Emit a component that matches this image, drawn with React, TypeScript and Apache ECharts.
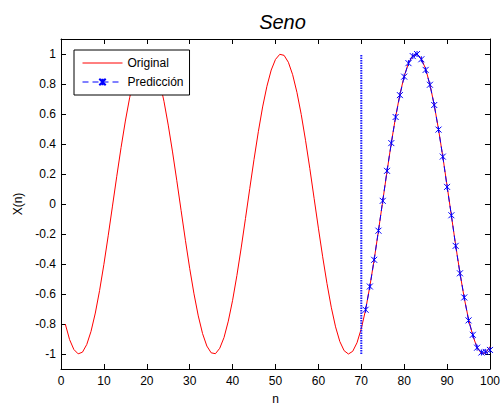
import React, { useEffect, useRef } from 'react';
import * as echarts from 'echarts';

// Original signal, n = 1..100
const originalValues = [
  -0.800, -0.904, -0.970, -0.999, -0.988, -0.937, -0.849, -0.727, -0.576, -0.402,
  -0.212, -0.014, 0.185, 0.376, 0.553, 0.708, 0.834, 0.927, 0.983, 1.000,
  0.977, 0.915, 0.817, 0.685, 0.526, 0.347, 0.155, -0.044, -0.242, -0.429,
  -0.599, -0.746, -0.864, -0.947, -0.992, -0.998, -0.962, -0.890, -0.781, -0.642,
  -0.477, -0.293, -0.097, 0.103, 0.298, 0.482, 0.647, 0.785, 0.893, 0.964,
  0.998, 0.991, 0.945, 0.862, 0.744, 0.597, 0.425, 0.237, 0.038, -0.161,
  -0.352, -0.530, -0.688, -0.819, -0.917, -0.978, -1.000, -0.982, -0.925, -0.831,
  -0.706, -0.548, -0.371, -0.179, 0.020, 0.218, 0.408, 0.581, 0.731, 0.852,
  0.939, 0.989, 0.999, 0.969, 0.900, 0.796, 0.660, 0.498, 0.316, 0.121,
  -0.078, -0.275, -0.460, -0.627, -0.768, -0.879, -0.957, -0.996, -0.994, -0.950,
];
const originalStart = 1;

// Prediction, n = 71..100
const predictionValues = [
  -0.705, -0.550, -0.372, -0.178, 0.021, 0.221, 0.406, 0.580, 0.726, 0.849,
  0.939, 0.986, 1.000, 0.965, 0.894, 0.795, 0.660, 0.496, 0.316, 0.114,
  -0.075, -0.279, -0.462, -0.623, -0.776, -0.872, -0.958, -0.990, -0.986, -0.973,
];
const predictionStart = 71;

// Vertical separator
const splitN = 70;
const splitRange = [-1, 1];

const yTickValues = [-1, -0.8, -0.6, -0.4, -0.2, 0, 0.2, 0.4, 0.6, 0.8, 1];

const FONT = '"Liberation Sans", Arial, sans-serif';
const starPath = 'path://M0,0L10,10M10,0L0,10M5,0L5,10';

export default function App() {
  const ref = useRef<HTMLDivElement>(null);
  useEffect(() => {
    if (!ref.current) return;
    const chart = echarts.init(ref.current, null, { renderer: 'svg' });
    const axisCommon = {
      axisLine: { show: true, onZero: false, lineStyle: { color: '#000', width: 1 } },
      axisTick: { show: true, inside: true, length: 5, lineStyle: { color: '#000' } },
      splitLine: { show: false },
    };
    chart.setOption({
      animation: false,
      backgroundColor: '#fff',
      title: {
        text: 'Seno',
        left: 277.5,
        textAlign: 'center',
        top: 7,
        textStyle: { fontFamily: FONT, fontSize: 20, fontStyle: 'italic', fontWeight: 'normal', color: '#000' },
      },
      legend: {
        data: [
          { name: 'Original', itemStyle: { opacity: 0 } },
          { name: 'Predicción' },
        ],
        orient: 'vertical',
        left: 74,
        top: 50,
        itemWidth: 40,
        itemHeight: 8,
        itemGap: 7,
        padding: [7, 6, 7, 8],
        borderColor: '#000',
        borderWidth: 1,
        backgroundColor: '#fff',
        lineStyle: { width: 1 },
        textStyle: { fontFamily: FONT, fontSize: 12, color: '#000' },
      },
      grid: { left: 61, right: 9, top: 39, bottom: 31, containLabel: false },
      xAxis: [
        {
          type: 'value', min: 0, max: 100, interval: 10, position: 'bottom',
          ...axisCommon,
          name: 'n', nameLocation: 'middle', nameGap: 24,
          nameTextStyle: { fontFamily: FONT, fontSize: 12, color: '#000' },
          axisLabel: { margin: 6, fontFamily: FONT, fontSize: 12, color: '#000' },
        },
        {
          type: 'value', min: 0, max: 100, interval: 10, position: 'top',
          ...axisCommon,
          axisLabel: { show: false },
        },
      ],
      yAxis: [
        {
          type: 'value', min: -1.1, max: 1.1, position: 'left',
          ...axisCommon,
          axisTick: { show: true, inside: true, length: 5, lineStyle: { color: '#000' }, customValues: yTickValues },
          axisLabel: { margin: 5, fontFamily: FONT, fontSize: 12, color: '#000', customValues: yTickValues },
          name: 'X(n)', nameLocation: 'middle', nameGap: 36, nameRotate: 90,
          nameTextStyle: { fontFamily: FONT, fontSize: 12, color: '#000' },
        },
        {
          type: 'value', min: -1.1, max: 1.1, position: 'right',
          ...axisCommon,
          axisTick: { show: true, inside: true, length: 5, lineStyle: { color: '#000' }, customValues: yTickValues },
          axisLabel: { show: false, customValues: yTickValues },
        },
      ],
      series: [
        {
          name: 'Original',
          type: 'line',
          data: originalValues.map((v, i) => [originalStart + i, v]),
          symbol: 'none',
          color: '#ff0000',
          lineStyle: { color: '#ff0000', width: 1 },
          z: 2,
        },
        {
          name: 'split',
          type: 'line',
          data: splitRange.map((v) => [splitN, v]),
          symbol: 'none',
          lineStyle: { color: '#1a1aff', width: 2, type: [1.5, 1] },
          z: 3,
        },
        {
          name: 'Predicción',
          type: 'line',
          data: predictionValues.map((v, i) => [predictionStart + i, v]),
          symbol: starPath,
          symbolSize: 6,
          color: '#0000ff',
          itemStyle: { color: '#0000ff', borderColor: '#0000ff', borderWidth: 1 },
          lineStyle: { color: '#0000ff', width: 1, type: [6, 4] },
          z: 4,
        },
      ],
    });
    return () => chart.dispose();
  }, []);
  return <div ref={ref} style={{ position: 'fixed', left: 0, top: 0, width: 503, height: 410 }} />;
}
